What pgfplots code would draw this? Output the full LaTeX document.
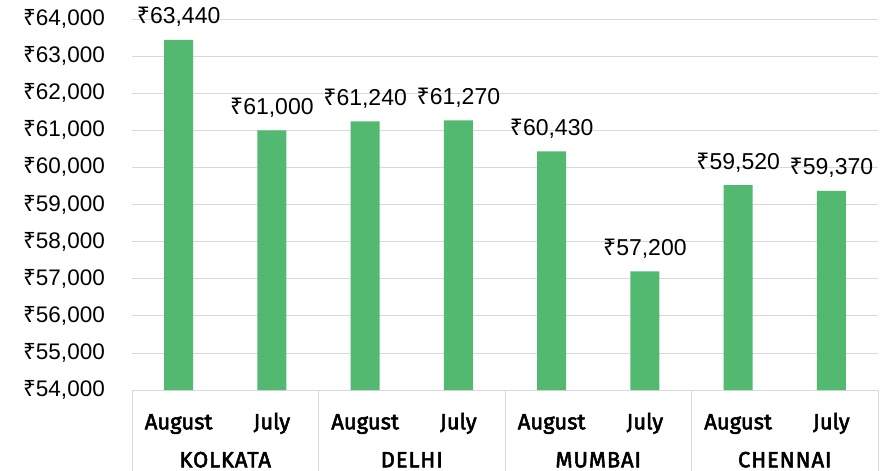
\documentclass[border=0pt]{standalone}
\usepackage{pgfplots}
\pgfplotsset{compat=1.18}
\usepackage{fontspec}
\setmainfont{Liberation Sans}
\newfontfamily\rupeefont{Noto Sans}
\newcommand\rupee{{\rupeefont ₹}}
\newfontfamily\catfont{Fira Sans}[FakeBold=2.5]
\newfontfamily\cityfont{Fira Sans}[FakeBold=2.5, LetterSpace=4]
\definecolor{bargreen}{RGB}{83,185,112}
\definecolor{gridgray}{RGB}{217,217,217}
\begin{document}
\begin{tikzpicture}
\useasboundingbox (-132pt,-81pt) rectangle (757pt,390pt);
\begin{axis}[
 at={(0,0)}, anchor=south west,
 scale only axis, width=746pt, height=371pt,
 xmin=-0.5, xmax=7.5, ymin=54000, ymax=64000,
 ytick={54000,55000,...,64000},
 scaled y ticks=false,
 ymajorgrids, grid style={gridgray, line width=0.8pt},
 axis line style={draw=none},
 major tick style={draw=none},
 ybar, bar width=29pt,
 clip=false,
 /pgf/number format/.cd, fixed, precision=0, 1000 sep={,}, assume math mode=true,
 /pgfplots/.cd,
 xtick={0,...,7},
 xticklabels={August,July,August,July,August,July,August,July},
 xticklabel style={font=\catfont\fontsize{22}{22}\selectfont, anchor=base, inner sep=0pt, yshift=-35pt},
 extra x ticks={0.5,2.5,4.5,6.5},
 extra x tick labels={KOLKATA,DELHI,MUMBAI,CHENNAI},
 extra x tick style={xticklabel style={yshift=-38pt, font=\cityfont\fontsize{22}{22}\selectfont}},
 yticklabel={\rupee\pgfmathprintnumber{\tick}},
 yticklabel style={font=\fontsize{22.5}{22.5}\selectfont, anchor=east, inner sep=0pt, xshift=-27pt},
 nodes near coords={\rupee\pgfmathprintnumber{\pgfplotspointmeta}},
 nodes near coords style={font=\fontsize{23}{23}\selectfont, anchor=base, inner sep=0pt, yshift=16pt, black},
]
\addplot[fill=bargreen, draw=none] coordinates {
 (0,63440) (1,61000) (2,61240) (3,61270) (4,60430) (5,57200) (6,59520) (7,59370)};
\draw[gridgray, line width=0.8pt] (axis cs:-0.5,54000) -- ++(0pt,-81pt);
\draw[gridgray, line width=0.8pt] (axis cs:1.5,54000) -- ++(0pt,-81pt);
\draw[gridgray, line width=0.8pt] (axis cs:3.5,54000) -- ++(0pt,-81pt);
\draw[gridgray, line width=0.8pt] (axis cs:5.5,54000) -- ++(0pt,-81pt);
\draw[gridgray, line width=0.8pt] (axis cs:7.5,54000) -- ++(0pt,-81pt);
\end{axis}
\end{tikzpicture}
\end{document}
